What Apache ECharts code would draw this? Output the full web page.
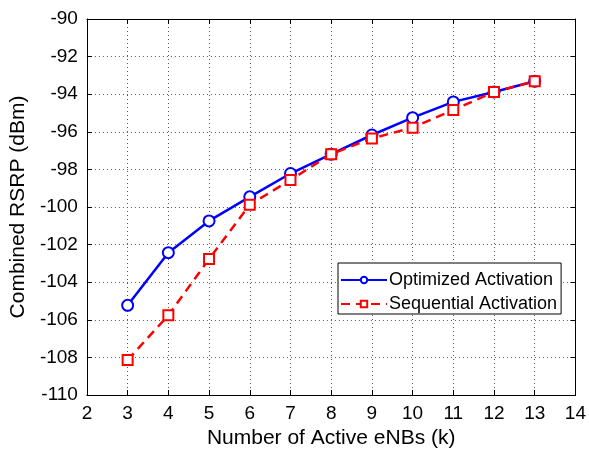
<!DOCTYPE html>
<html>
<head>
<meta charset="utf-8">
<script src="https://cdn.jsdelivr.net/npm/echarts@6/dist/echarts.min.js"></script>
<style>
  html, body { margin: 0; padding: 0; background: #fff; }
  #chart { width: 589px; height: 455px; }
</style>
</head>
<body>
<div id="chart"></div>
<script>
// Number of active eNBs
const activeENBs = [3, 4, 5, 6, 7, 8, 9, 10, 11, 12, 13];
// Combined RSRP (dBm) for each activation strategy
const optimizedRSRP = [-105.23, -102.43, -100.74, -99.46, -98.22, -97.19, -96.17, -95.25, -94.41, -93.88, -93.31];
const sequentialRSRP = [-108.14, -105.76, -102.77, -99.88, -98.56, -97.19, -96.35, -95.78, -94.84, -93.88, -93.31];

const seriesNames = ['Optimized Activation', 'Sequential Activation'];

const xMin = 2, xMax = 14, xStep = 1;
const yMin = -110, yMax = -90, yStep = 2;

const font = 'Liberation Sans, Arial, sans-serif';

function pairs(xs, ys) {
  return xs.map((x, i) => [x, ys[i]]);
}

const gridLine = { show: true, lineStyle: { color: '#555', width: 1, type: [1, 3] } };
const boxLine = { show: true, onZero: false, lineStyle: { color: '#000', width: 1 } };
const innerTick = { show: true, inside: true, length: 5, lineStyle: { color: '#000', width: 1 } };

const chart = echarts.init(document.getElementById('chart'), null, { renderer: 'canvas' });

chart.setOption({
  animation: false,
  backgroundColor: '#fff',
  textStyle: { fontFamily: font },
  grid: { left: 83, top: 19, right: 13, bottom: 60, containLabel: false },
  xAxis: [
    {
      type: 'value', min: xMin, max: xMax, interval: xStep, position: 'bottom',
      name: 'Number of Active eNBs (k)', nameLocation: 'middle', nameGap: 32,
      nameTextStyle: { fontSize: 21, color: '#000', fontFamily: font },
      axisLine: boxLine, axisTick: innerTick, splitLine: gridLine,
      axisLabel: { fontSize: 19, color: '#000', margin: 9, fontFamily: font }
    },
    {
      type: 'value', min: xMin, max: xMax, interval: xStep, position: 'top',
      axisLine: boxLine, axisTick: innerTick, splitLine: { show: false },
      axisLabel: { show: false }
    }
  ],
  yAxis: [
    {
      type: 'value', min: yMin, max: yMax, interval: yStep, position: 'left',
      name: 'Combined RSRP (dBm)', nameLocation: 'middle', nameGap: 50,
      nameTextStyle: { fontSize: 21, color: '#000', fontFamily: font },
      axisLine: boxLine, axisTick: innerTick, splitLine: gridLine,
      axisLabel: { fontSize: 19, color: '#000', margin: 9, fontFamily: font }
    },
    {
      type: 'value', min: yMin, max: yMax, interval: yStep, position: 'right',
      axisLine: boxLine, axisTick: innerTick, splitLine: { show: false },
      axisLabel: { show: false }
    }
  ],
  legend: {
    orient: 'vertical',
    left: 338, top: 263,
    padding: [8, 4, 1, 2],
    itemGap: 6,
    itemWidth: 46, itemHeight: 8,
    backgroundColor: '#fff',
    borderColor: '#000', borderWidth: 1, borderRadius: 0,
    textStyle: { fontSize: 18, color: '#000', fontFamily: font, padding: [0, 0, 0, -3] },
    data: seriesNames
  },
  series: [
    {
      name: seriesNames[0],
      type: 'line',
      data: pairs(activeENBs, optimizedRSRP),
      symbol: 'emptyCircle', symbolSize: 11,
      color: '#0000ff',
      lineStyle: { color: '#0000ff', width: 2.5 },
      itemStyle: { color: '#0000ff', borderColor: '#0000ff', borderWidth: 2.5 },
      z: 3
    },
    {
      name: seriesNames[1],
      type: 'line',
      data: pairs(activeENBs, sequentialRSRP),
      symbol: 'emptyRect', symbolSize: 10,
      color: '#ff0000',
      lineStyle: { color: '#ff0000', width: 2.5, type: [9, 6] },
      itemStyle: { color: '#ff0000', borderColor: '#ff0000', borderWidth: 2.5 },
      z: 4
    }
  ]
});
</script>
</body>
</html>
